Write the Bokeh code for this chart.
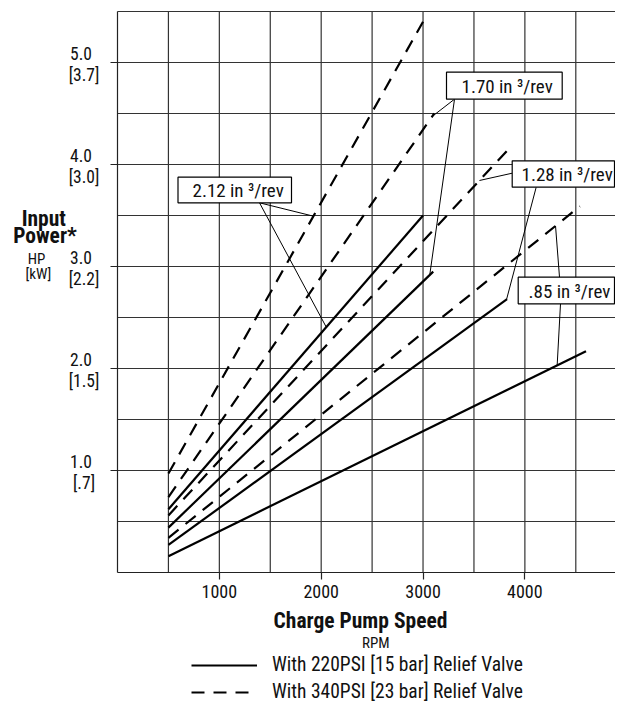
import numpy as np
from bokeh.plotting import figure
from bokeh.models import Range1d, FixedTicker, Legend, LegendItem
from bokeh.core.properties import value
from bokeh.embed import file_html
from bokeh.resources import INLINE

# ---------------- data ----------------
displacements = ["2.12", "1.70", "1.28", ".85"]
start_rpm = [500, 500, 500, 500]
# With 220PSI [15 bar] relief valve (solid)
solid_start_hp = [0.62, 0.44, 0.27, 0.16]
solid_end_rpm = [3000, 3100, 3825, 4600]
solid_end_hp = [3.50, 2.95, 2.68, 2.17]
# With 340PSI [23 bar] relief valve (dashed)
dashed_start_hp = [0.97, 0.74, 0.56, 0.34]
dashed_end_rpm = [3000, 3110, 3830, 4540]
dashed_end_hp = [5.40, 4.50, 4.14, 3.59]

x_ticks = [1000, 2000, 3000, 4000]
x_grid = [500, 1000, 1500, 2000, 2500, 3000, 3500, 4000, 4500]
y_ticks = [1.0, 2.0, 3.0, 4.0, 5.0]
y_grid = [0.5, 1.0, 1.5, 2.0, 2.5, 3.0, 3.5, 4.0, 4.5, 5.0, 5.5]
hp_labels = ["1.0", "2.0", "3.0", "4.0", "5.0"]
kw_labels = ["[.7]", "[1.5]", "[2.2]", "[3.0]", "[3.7]"]
legend_labels = ["With 220PSI [15 bar] Relief Valve", "With 340PSI [23 bar] Relief Valve"]

FONT = "Roboto Condensed"
X0, Y0 = 117.0, 572.0
PXX = (575.3 - 117.0) / 4500.0
PXY = 102.0
def dx(px):
    return (px - X0) / PXX
def dy(py):
    return (Y0 - py) / PXY

W, H = 615, 703
XR = dx(W)

p = figure(width=W, height=H, output_backend="svg", toolbar_location=None,
           x_range=Range1d(dx(0), XR), y_range=Range1d(dy(H), dy(0)),
           min_border=0, min_border_left=0, min_border_right=0,
           min_border_top=0, min_border_bottom=0)
p.outline_line_color = None
p.grid.visible = False

for ax in (p.xaxis[0], p.yaxis[0]):
    ax.fixed_location = 0
    ax.axis_line_color = "#222222"
    ax.axis_line_width = 1.2
    ax.major_tick_line_color = "#222222"
    ax.major_tick_line_width = 1.2
    ax.major_tick_out = 7
    ax.major_tick_in = 0
    ax.minor_tick_line_color = None
    ax.major_label_text_font = FONT
    ax.major_label_text_color = "#111111"

p.xaxis.ticker = FixedTicker(ticks=x_ticks)
p.xaxis.bounds = (0, XR)
p.xaxis.major_label_text_font_size = "18px"
p.xaxis.major_label_standoff = 5
p.yaxis.ticker = FixedTicker(ticks=y_ticks)
p.yaxis.bounds = (0, y_grid[-1])
p.yaxis.major_label_overrides = {t: "" for t in y_ticks}

# grid lines, bounded to the chart area
p.segment(x0=x_grid, x1=x_grid, y0=[0] * len(x_grid), y1=[y_grid[-1]] * len(x_grid),
          line_color="#333333", line_width=1.2)
p.segment(x0=[0] * len(y_grid), x1=[XR] * len(y_grid), y0=y_grid, y1=y_grid,
          line_color="#333333", line_width=1.2)

# ---------------- series ----------------
solid_r = []
dashed_r = []
for i in range(len(displacements)):
    r = p.line([start_rpm[i], solid_end_rpm[i]], [solid_start_hp[i], solid_end_hp[i]],
               line_color="black", line_width=2.2)
    solid_r.append(r)
    r = p.line([start_rpm[i], dashed_end_rpm[i]], [dashed_start_hp[i], dashed_end_hp[i]],
               line_color="black", line_width=2.2, line_dash="13 9")
    dashed_r.append(r)

def on_line(i, rpm, dashed):
    if dashed:
        return float(np.interp(rpm, [start_rpm[i], dashed_end_rpm[i]], [dashed_start_hp[i], dashed_end_hp[i]]))
    return float(np.interp(rpm, [start_rpm[i], solid_end_rpm[i]], [solid_start_hp[i], solid_end_hp[i]]))

# ---------------- callout boxes and leaders ----------------
boxes = [
    (177.5, 291.0, 176.7, 202.3, 192.0),
    (446.0, 561.7, 71.7, 98.7, 461.0),
    (511.7, 614.0, 160.3, 186.7, 521.0),
    (517.7, 614.0, 276.7, 303.3, 528.0),
]
leaders = [
    ((259.0, 202.3), 1924, (259.0, 202.3), 2050),
    ((454.0, 98.7), 3090, (454.0, 98.7), 3066),
    ((511.7, 172.7), 3554, (535.7, 186.7), 3820),
    ((559.0, 276.7), 4301, (560.0, 303.3), 4317),
]
for i, d in enumerate(displacements):
    (o1, r1, o2, r2) = leaders[i]
    p.segment(x0=[dx(o1[0]), dx(o2[0])], y0=[dy(o1[1]), dy(o2[1])],
              x1=[r1, r2], y1=[on_line(i, r1, True), on_line(i, r2, False)],
              line_color="black", line_width=1)
for i, d in enumerate(displacements):
    l, rr, t, b, tx = boxes[i]
    p.quad(left=[dx(l)], right=[dx(rr)], top=[dy(t)], bottom=[dy(b)],
           fill_color="white", line_color="black", line_width=1.2)
    p.text(x=[dx(tx)], y=[dy((t + b) / 2 + 0.5)], text=[f"{d} in \u00b3/rev"],
           text_font=value(FONT), text_font_size="19px", text_align="left",
           text_baseline="middle", text_color="#111111")

# ---------------- texts around the chart ----------------
def lab(xs, ys, texts, size, bold=False, align="center"):
    p.text(x=[dx(v) for v in xs], y=[dy(v) for v in ys], text=texts,
           text_font=value(FONT), text_font_size=size,
           text_font_style="bold" if bold else "normal", text_align=align,
           text_baseline="middle", text_color="#111111")

tick_py = [Y0 - v * PXY for v in y_ticks]
lab([80.5] * len(y_ticks), [v - 9.0 for v in tick_py], hp_labels, "17.5px")
lab([83.5] * len(y_ticks), [v + 12.5 for v in tick_py], kw_labels, "17.5px")
lab([43.3, 44.5], [217.5, 235], ["Input", "Power*"], "21.5px", True)
lab([36, 37.8], [258.5, 273.5], ["HP", "[kW]"], "15px")
lab([360], [620], ["Charge Pump Speed"], "21.5px", True)
lab([375.3], [642.5], ["RPM"], "15px")

# ---------------- legend ----------------
legend = Legend(items=[LegendItem(label=legend_labels[0], renderers=[solid_r[0]]),
                       LegendItem(label=legend_labels[1], renderers=[dashed_r[0]])],
                location=(191, 0),
                orientation="vertical", glyph_width=66, glyph_height=20, label_height=20,
                label_standoff=15, spacing=4, padding=0, margin=0,
                border_line_color=None, background_fill_alpha=0,
                label_text_font=FONT, label_text_font_size="19.5px", label_text_color="#111111")
p.add_layout(legend)

open("out.html", "w").write(file_html(p, INLINE))
